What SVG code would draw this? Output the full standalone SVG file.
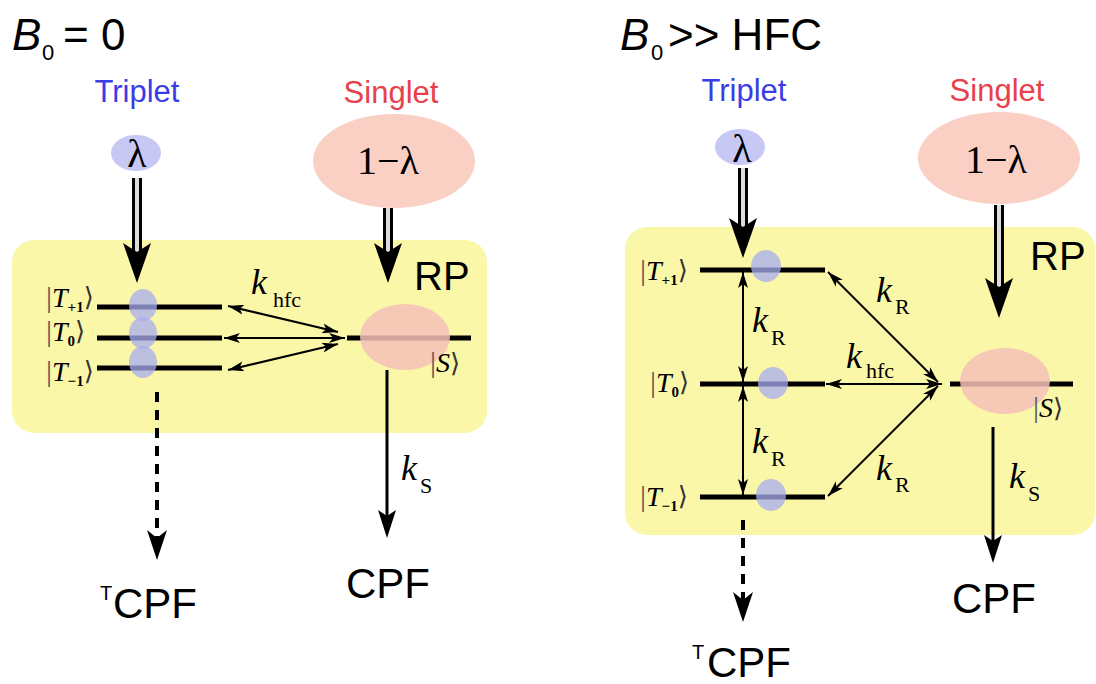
<svg xmlns="http://www.w3.org/2000/svg" width="1096" height="684" viewBox="0 0 1096 684">
<style>
  .sans{font-family:"Liberation Sans",Arial,sans-serif;}
  .serif{font-family:"Liberation Serif","Times New Roman",serif;}
  .title{font-size:44px;fill:#000;}
  .trip{font-size:31px;fill:#3c3ce6;}
  .sing{font-size:31px;fill:#e8404a;}
  .big{font-size:42px;fill:#000;}
  .rp{font-size:40px;fill:#000;}
  .k{font-size:36px;font-style:italic;}
  .ksub{font-size:22px;}
  .ket{font-size:28px;}
  .kbar{font-size:30px;fill:#555;}
  .br{font-family:"DejaVu Serif","DejaVu Sans",serif;font-size:26px;fill:#333;}
  .tsub{font-size:15px;font-weight:bold;}
  .lam{font-size:40px;}
  .box{fill:#fbf7a8;}
  .level{stroke:#000;stroke-width:5;}
  .tdot{fill:#a8acf0;fill-opacity:0.75;}
  .sdot{fill:#f5c0b8;fill-opacity:0.85;}
  .thin{stroke:#000;stroke-width:2;fill:none;marker-start:url(#ah);marker-end:url(#ah);}
  .dbl-o{stroke:#000;stroke-width:10;}
  .dbl-i{stroke:#dcdcdc;stroke-width:4;}
  .solid{stroke:#000;stroke-width:3;}
  .dash{stroke:#000;stroke-width:4;stroke-dasharray:10 8;}
  .head{fill:#000;}
</style>
<defs>
  <marker id="ah" viewBox="0 0 16 10" refX="16" refY="5" markerWidth="16" markerHeight="10" markerUnits="userSpaceOnUse" orient="auto-start-reverse">
    <path d="M0,0 L16,5 L0,10 L4,5 z" fill="#000"/>
  </marker>
</defs>

<!-- ================= LEFT PANEL ================= -->
<g id="left-title">
  <text class="sans title" x="12" y="50"><tspan font-style="italic">B</tspan></text>
  <text class="sans" x="42" y="60" font-size="22">0</text>
  <text class="sans title" x="63" y="50">= 0</text>
</g>
<g id="left-rp">
  <rect class="box" x="12" y="240" width="475" height="193" rx="22"/>
  <text class="sans rp" x="414" y="290">RP</text>
</g>
<g id="left-triplet-source">
  <text class="sans trip" x="137" y="102" text-anchor="middle">Triplet</text>
  <ellipse cx="136" cy="153" rx="25" ry="18" fill="#c8c8f5"/>
  <text class="serif lam" x="137" y="167" text-anchor="middle">λ</text>
</g>
<g id="left-singlet-source">
  <text class="sans sing" x="391" y="103" text-anchor="middle">Singlet</text>
  <ellipse cx="394" cy="161" rx="81" ry="47" fill="#f9d0c3"/>
  <text class="serif lam" x="388" y="174" text-anchor="middle">1−λ</text>
</g>
<g id="left-levels">
  <line class="level" x1="97" y1="307" x2="222" y2="307"/>
  <line class="level" x1="97" y1="338" x2="222" y2="338"/>
  <line class="level" x1="97" y1="368" x2="222" y2="368"/>
  <line class="level" x1="347" y1="338" x2="471" y2="338"/>
</g>
<g id="left-populations">
  <ellipse class="tdot" cx="143" cy="305" rx="14" ry="16"/>
  <ellipse class="tdot" cx="143" cy="333" rx="14" ry="16"/>
  <ellipse class="tdot" cx="143" cy="362" rx="14" ry="16"/>
  <ellipse class="sdot" cx="405" cy="337" rx="45" ry="33"/>
</g>
<g id="left-kets">
  <text class="serif ket" x="46" y="307"><tspan class="kbar">|</tspan><tspan font-style="italic">T</tspan><tspan class="tsub" dy="5">+1</tspan><tspan class="br" dy="-6">⟩</tspan></text>
  <text class="serif ket" x="46" y="341"><tspan class="kbar">|</tspan><tspan font-style="italic">T</tspan><tspan class="tsub" dy="5">0</tspan><tspan class="br" dy="-6">⟩</tspan></text>
  <text class="serif ket" x="46" y="381"><tspan class="kbar">|</tspan><tspan font-style="italic">T</tspan><tspan class="tsub" dy="5">−1</tspan><tspan class="br" dy="-6">⟩</tspan></text>
  <text class="serif ket" x="430" y="372"><tspan class="kbar">|</tspan><tspan font-style="italic">S</tspan><tspan class="br">⟩</tspan></text>
</g>
<g id="left-products">
  <text class="sans" x="100" y="600" font-size="20">T</text>
  <text class="sans big" x="113" y="618">CPF</text>
  <text class="sans big" x="346" y="598">CPF</text>
</g>
<g id="left-labels">
  <text class="serif k" x="251" y="294">k</text><text class="serif ksub" x="273" y="307">hfc</text>
  <text class="serif k" x="401" y="480">k</text><text class="serif ksub" x="420" y="493">S</text>
</g>

<!-- ================= RIGHT PANEL ================= -->
<g id="right-title">
  <text class="sans title" x="620" y="50"><tspan font-style="italic">B</tspan></text>
  <text class="sans" x="651" y="60" font-size="22">0</text>
  <text class="sans title" x="668" y="50">&gt;&gt; HFC</text>
</g>
<g id="right-rp">
  <rect class="box" x="625" y="227" width="470" height="308" rx="22"/>
  <text class="sans rp" x="1030" y="270">RP</text>
</g>
<g id="right-triplet-source">
  <text class="sans trip" x="744" y="101" text-anchor="middle">Triplet</text>
  <ellipse cx="740" cy="147" rx="25" ry="18" fill="#c8c8f5"/>
  <text class="serif lam" x="742" y="162" text-anchor="middle">λ</text>
</g>
<g id="right-singlet-source">
  <text class="sans sing" x="997" y="101" text-anchor="middle">Singlet</text>
  <ellipse cx="999" cy="158" rx="81" ry="46" fill="#f9d0c3"/>
  <text class="serif lam" x="996" y="173" text-anchor="middle">1−λ</text>
</g>
<g id="right-levels">
  <line class="level" x1="700" y1="270" x2="825" y2="270"/>
  <line class="level" x1="700" y1="384" x2="825" y2="384"/>
  <line class="level" x1="700" y1="497" x2="825" y2="497"/>
  <line class="level" x1="950" y1="384" x2="1073" y2="384"/>
</g>
<g id="right-populations">
  <ellipse class="tdot" cx="766" cy="266" rx="15" ry="16"/>
  <ellipse class="tdot" cx="773" cy="383" rx="15" ry="16"/>
  <ellipse class="tdot" cx="771" cy="495" rx="15" ry="16"/>
  <ellipse class="sdot" cx="1005" cy="381" rx="45" ry="33"/>
</g>
<g id="right-kets">
  <text class="serif ket" x="640" y="280"><tspan class="kbar">|</tspan><tspan font-style="italic">T</tspan><tspan class="tsub" dy="5">+1</tspan><tspan class="br" dy="-6">⟩</tspan></text>
  <text class="serif ket" x="650" y="392"><tspan class="kbar">|</tspan><tspan font-style="italic">T</tspan><tspan class="tsub" dy="5">0</tspan><tspan class="br" dy="-6">⟩</tspan></text>
  <text class="serif ket" x="640" y="506"><tspan class="kbar">|</tspan><tspan font-style="italic">T</tspan><tspan class="tsub" dy="5">−1</tspan><tspan class="br" dy="-6">⟩</tspan></text>
  <text class="serif ket" x="1033" y="417"><tspan class="kbar">|</tspan><tspan font-style="italic">S</tspan><tspan class="br">⟩</tspan></text>
</g>
<g id="right-products">
  <text class="sans" x="692" y="659" font-size="20">T</text>
  <text class="sans big" x="707" y="677">CPF</text>
  <text class="sans big" x="952" y="613">CPF</text>
</g>
<g id="right-labels">
  <text class="serif k" x="752" y="332">k</text><text class="serif ksub" x="771" y="345">R</text>
  <text class="serif k" x="752" y="453">k</text><text class="serif ksub" x="771" y="466">R</text>
  <text class="serif k" x="876" y="302">k</text><text class="serif ksub" x="895" y="314">R</text>
  <text class="serif k" x="846" y="368">k</text><text class="serif ksub" x="866" y="378">hfc</text>
  <text class="serif k" x="876" y="480">k</text><text class="serif ksub" x="895" y="492">R</text>
  <text class="serif k" x="1009" y="488">k</text><text class="serif ksub" x="1028" y="501">S</text>
</g>

<!-- ================= CONNECTORS ================= -->
<g id="connectors">
  <!-- left: feeding double arrows -->
  <line class="dbl-o" x1="137" y1="178" x2="137" y2="256"/>
  <line class="dbl-i" x1="137" y1="178" x2="137" y2="254"/>
  <polygon class="head" points="137,283 123,243 137,252 151,243"/>
  <line class="dbl-o" x1="388" y1="208" x2="388" y2="256"/>
  <line class="dbl-i" x1="388" y1="208" x2="388" y2="254"/>
  <polygon class="head" points="388,283 374,243 388,252 402,243"/>
  <!-- left: k_hfc exchanges -->
  <line class="thin" x1="228" y1="306" x2="338" y2="332"/>
  <line class="thin" x1="224" y1="338" x2="345" y2="338"/>
  <line class="thin" x1="228" y1="370" x2="338" y2="344"/>
  <!-- left: k_S decay -->
  <line class="solid" x1="387" y1="370" x2="387" y2="520"/>
  <polygon class="head" points="387,538 378,510 387,516 396,510"/>
  <!-- left: triplet dashed decay -->
  <line class="dash" x1="157" y1="392" x2="157" y2="540"/>
  <polygon class="head" points="157,560 147,530 157,538 167,530"/>

  <!-- right: feeding double arrows -->
  <line class="dbl-o" x1="743" y1="168" x2="743" y2="231"/>
  <line class="dbl-i" x1="743" y1="168" x2="743" y2="229"/>
  <polygon class="head" points="743,258 729,218 743,227 757,218"/>
  <line class="dbl-o" x1="999" y1="205" x2="999" y2="291"/>
  <line class="dbl-i" x1="999" y1="205" x2="999" y2="289"/>
  <polygon class="head" points="999,318 985,278 999,287 1013,278"/>
  <!-- right: k_R between triplet sublevels -->
  <line class="thin" x1="743" y1="272" x2="743" y2="382"/>
  <line class="thin" x1="743" y1="386" x2="743" y2="495"/>
  <!-- right: S to triplet sublevels -->
  <line class="thin" x1="828" y1="272" x2="938" y2="382"/>
  <line class="thin" x1="826" y1="384" x2="942" y2="384"/>
  <line class="thin" x1="828" y1="496" x2="938" y2="386"/>
  <!-- right: k_S decay -->
  <line class="solid" x1="993" y1="427" x2="993" y2="545"/>
  <polygon class="head" points="993,563 984,535 993,541 1002,535"/>
  <!-- right: triplet dashed decay -->
  <line class="dash" x1="743" y1="520" x2="743" y2="602"/>
  <polygon class="head" points="743,622 733,592 743,600 753,592"/>
</g>
</svg>
